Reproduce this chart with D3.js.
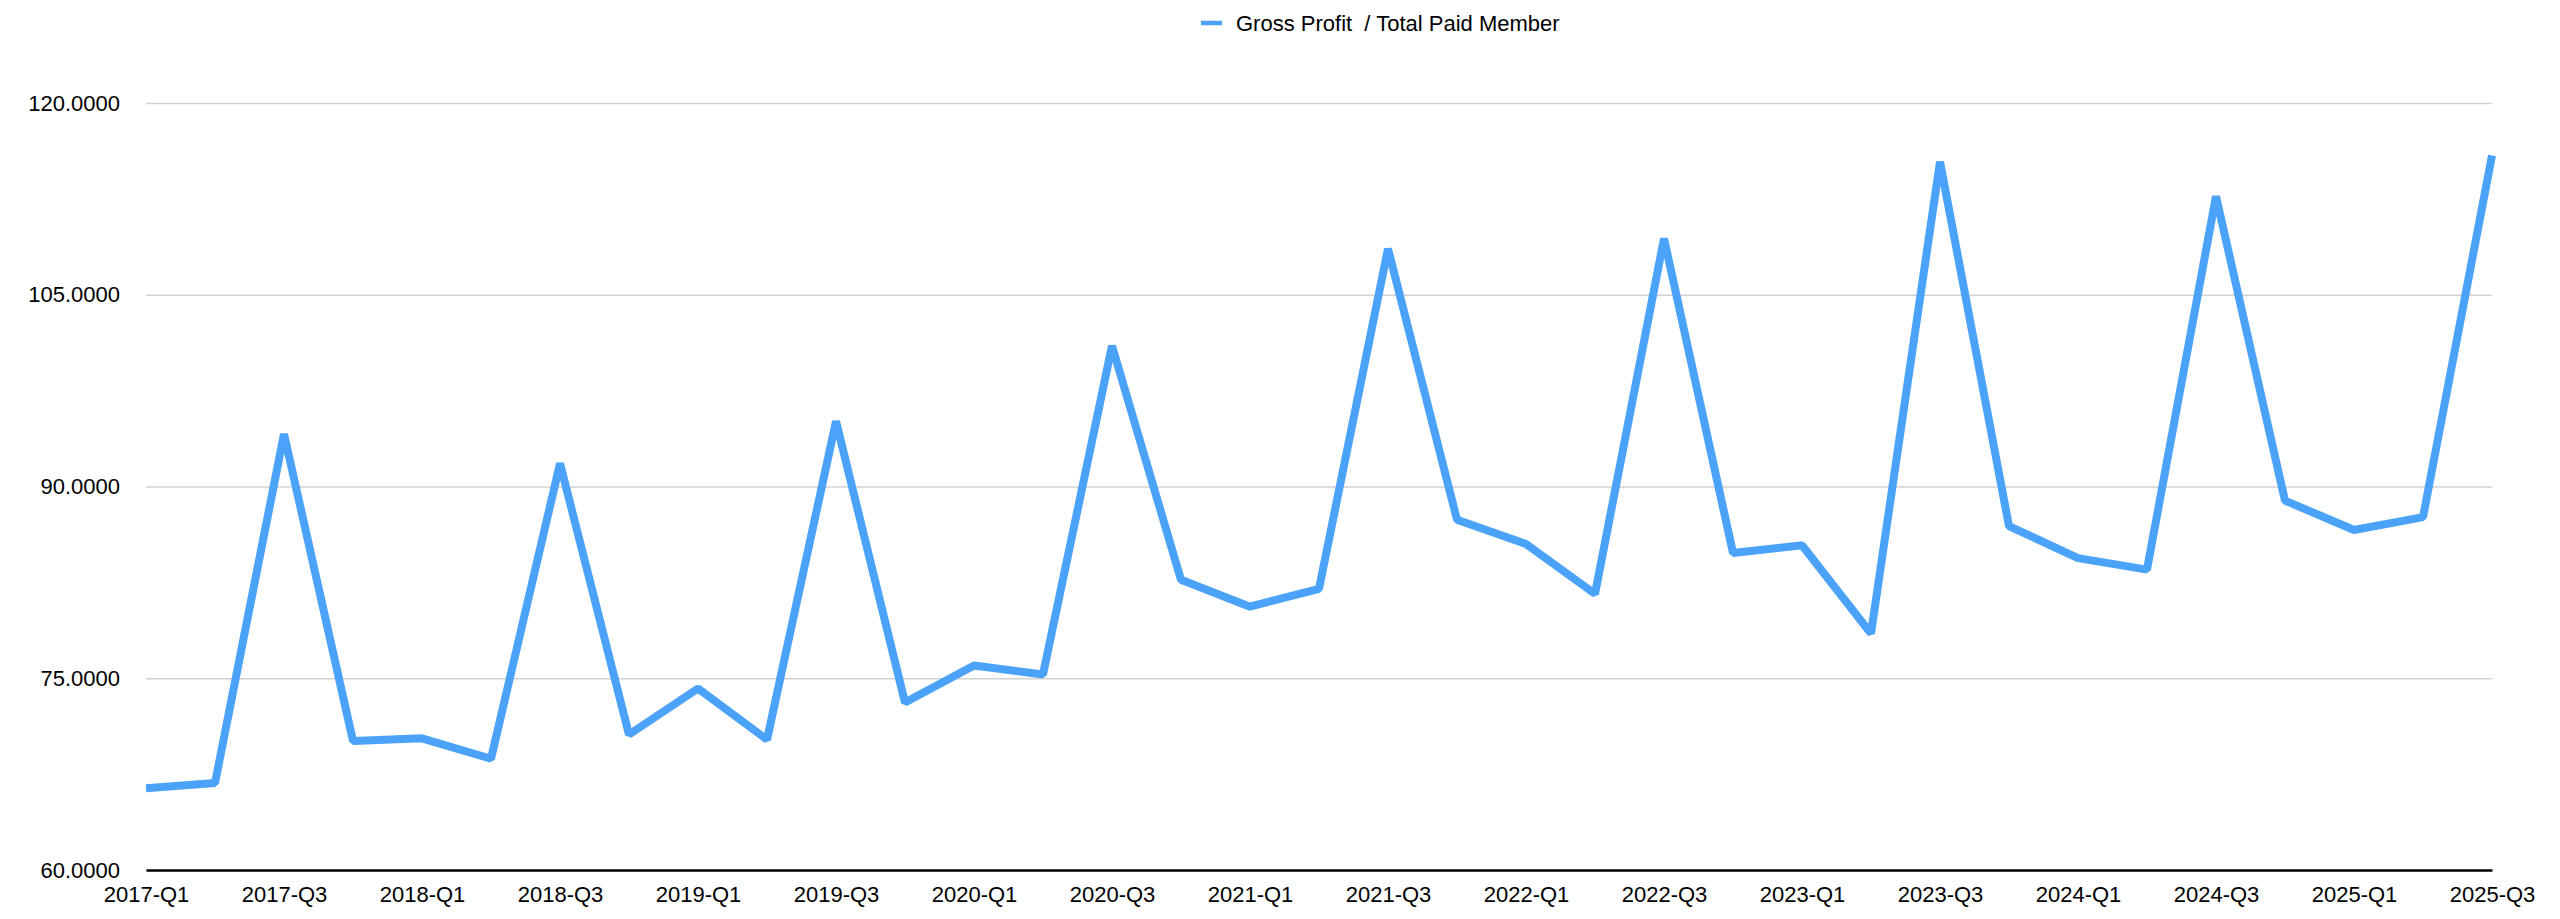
<!DOCTYPE html>
<html>
<head>
<meta charset="utf-8">
<script src="https://cdn.jsdelivr.net/npm/d3@7"></script>
<style>
  body { margin: 0; background: #fff; }
  svg text { font-family: "Liberation Sans", Arial, Helvetica, sans-serif; fill: #000; }
</style>
</head>
<body>
<svg id="chart"></svg>
<script>
const quarters = [
  "2017-Q1","2017-Q2","2017-Q3","2017-Q4",
  "2018-Q1","2018-Q2","2018-Q3","2018-Q4",
  "2019-Q1","2019-Q2","2019-Q3","2019-Q4",
  "2020-Q1","2020-Q2","2020-Q3","2020-Q4",
  "2021-Q1","2021-Q2","2021-Q3","2021-Q4",
  "2022-Q1","2022-Q2","2022-Q3","2022-Q4",
  "2023-Q1","2023-Q2","2023-Q3","2023-Q4",
  "2024-Q1","2024-Q2","2024-Q3","2024-Q4",
  "2025-Q1","2025-Q2","2025-Q3"
];

// Gross Profit / Total Paid Member
const values = [
  66.4, 66.8, 94.1, 70.1,
  70.3, 68.7, 91.8, 70.6,
  74.2, 70.2, 95.1, 73.1,
  76.0, 75.3, 101.0, 82.7,
  80.6, 82.0, 108.6, 87.4,
  85.5, 81.6, 109.4, 84.8,
  85.4, 78.5, 115.4, 86.9,
  84.4, 83.5, 112.7, 88.9,
  86.6, 87.6, 115.9
];

const yTicks = [60, 75, 90, 105, 120];
const seriesName = "Gross Profit  / Total Paid Member";

const width = 2560;
const height = 919;
const margin = { top: 103, right: 68, bottom: 49, left: 146 };
const lineColor = "#4ba3f9";

const svg = d3.select("#chart")
              .attr("width", width)
              .attr("height", height);

const g = svg.append("g")
             .attr("transform", `translate(${margin.left}, ${margin.top})`);

const innerW = width - margin.left - margin.right;
const innerH = height - margin.top - margin.bottom;

const xScale = d3.scalePoint()
                 .domain(quarters)
                 .range([0, innerW]);

const yScale = d3.scaleLinear()
                 .domain([60, 120])
                 .range([innerH, 0]);

// gridlines + y labels
const yAxis = d3.axisLeft(yScale)
                .tickValues(yTicks)
                .tickSize(-innerW)
                .tickPadding(26)
                .tickFormat(d3.format(".4f"));

g.append("g")
 .attr("class", "y-axis")
 .call(yAxis)
 .call(s => s.select(".domain").remove())
 .call(s => s.selectAll(".tick line").attr("stroke", "#d2d2d2").attr("stroke-width", 1.5))
 .call(s => s.selectAll(".tick text").attr("font-size", 22));

// x axis (labels on every other quarter)
const xAxis = d3.axisBottom(xScale)
                .tickValues(quarters.filter((q, i) => i % 2 === 0))
                .tickSize(0)
                .tickPadding(16);

g.append("g")
 .attr("class", "x-axis")
 .attr("transform", `translate(0, ${innerH})`)
 .call(xAxis)
 .call(s => s.select(".domain").attr("stroke", "#000").attr("stroke-width", 2.5))
 .call(s => s.selectAll(".tick text").attr("font-size", 22));

// line
const line = d3.line()
               .x((d, i) => xScale(quarters[i]))
               .y(d => yScale(d));

g.append("path")
 .datum(values)
 .attr("fill", "none")
 .attr("stroke", lineColor)
 .attr("stroke-width", 8)
 .attr("stroke-linejoin", "bevel")
 .attr("d", line);

// legend
const legend = svg.append("g")
                  .attr("transform", "translate(1201, 23)");

legend.append("line")
      .attr("x1", 0)
      .attr("x2", 21)
      .attr("stroke", lineColor)
      .attr("stroke-width", 4.5);

legend.append("text")
      .attr("x", 35)
      .attr("dy", "0.35em")
      .attr("font-size", 22)
      .style("white-space", "pre")
      .text(seriesName);
</script>
</body>
</html>
